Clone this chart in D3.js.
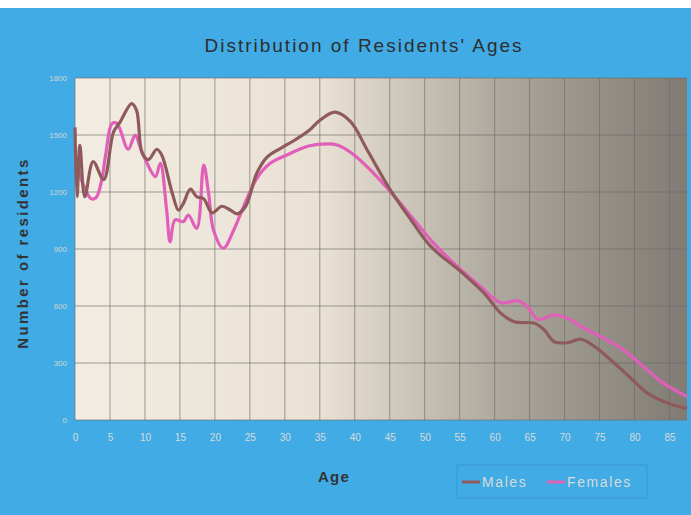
<!DOCTYPE html>
<html>
<head>
<meta charset="utf-8">
<script src="https://cdn.jsdelivr.net/npm/d3@7"></script>
<style>
  body { margin: 0; background: #ffffff; }
  svg { display: block; font-family: Arial, "Liberation Sans", sans-serif; }
</style>
</head>
<body>
<div id="chart"></div>
<script>
// ages (years) and counts
const maleAges = [0, 0.3, 0.7, 1.4, 2.6, 4.1, 5.5, 6.4, 8.1, 8.8, 9.6, 10.5, 11.7, 12.4, 13.9, 14.8, 15.5, 16.5, 17.4, 18.4, 19.6, 21, 22.2, 23.2, 24.4, 26, 27.5, 29.4, 31.5, 33.5, 35.1, 37.2, 39.4, 41.8, 45.1, 48, 50.9, 55.2, 58.5, 60.9, 62.8, 65.7, 67.1, 68.5, 70.4, 72.3, 74.3, 76.6, 79, 81.9, 84.8, 87.5];
const maleCounts = [1540, 1175, 1445, 1175, 1360, 1265, 1515, 1565, 1665, 1630, 1405, 1370, 1425, 1395, 1195, 1105, 1140, 1215, 1175, 1165, 1090, 1125, 1105, 1085, 1125, 1300, 1385, 1430, 1475, 1525, 1580, 1620, 1570, 1420, 1210, 1055, 912, 780, 667, 561, 517, 509, 474, 412, 407, 425, 386, 316, 237, 140, 88, 60];

const femaleAges = [0, 0.6, 1.4, 2.3, 3.0, 3.8, 4.4, 5.3, 6, 7.6, 8.6, 9.3, 10.3, 11.5, 12.2, 13.1, 13.6, 14.3, 15.5, 16.2, 17.4, 18.4, 19.1, 19.8, 21.2, 22.7, 24.1, 26, 27.9, 30.3, 33.4, 36.1, 37.5, 39.9, 42.7, 45.1, 48.5, 51.3, 54.7, 58, 60.9, 63.3, 64.7, 66.2, 68.5, 70.4, 72.8, 75.2, 78.1, 81, 83.8, 87.5];
const femaleCounts = [1400, 1300, 1220, 1165, 1170, 1260, 1400, 1561, 1561, 1425, 1500, 1438, 1351, 1281, 1351, 1105, 938, 1053, 1044, 1079, 1009, 1342, 1193, 1000, 904, 1000, 1123, 1272, 1351, 1395, 1442, 1453, 1447, 1395, 1298, 1202, 1053, 930, 807, 702, 617, 628, 596, 530, 553, 535, 483, 438, 377, 290, 202, 123];

const xTicks = [0, 5, 10, 15, 20, 25, 30, 35, 40, 45, 50, 55, 60, 65, 70, 75, 80, 85];
const yTicks = [0, 300, 600, 900, 1200, 1500, 1800];

const W = 691, H = 515;
const margin = { top: 78, right: 4, bottom: 95, left: 75 };
const width = W - margin.left - margin.right;
const height = H - margin.top - margin.bottom;

const svg = d3.select('#chart').append('svg')
  .attr('width', W)
  .attr('height', H);

// blue frame
svg.append('rect').attr('x', 0).attr('y', 8).attr('width', W).attr('height', H - 8).attr('fill', '#41abe6');

// plot background gradient
const defs = svg.append('defs');
const grad = defs.append('linearGradient').attr('id', 'bg').attr('x1', '0%').attr('x2', '100%').attr('y1', '0%').attr('y2', '0%');
grad.append('stop').attr('offset', '0%').attr('stop-color', '#f3ece2');
grad.append('stop').attr('offset', '40%').attr('stop-color', '#e9e1d4');
grad.append('stop').attr('offset', '70%').attr('stop-color', '#aca79c');
grad.append('stop').attr('offset', '100%').attr('stop-color', '#807c75');

const xScale = d3.scaleLinear().domain([0, 87.5]).range([0, width]);
const yScale = d3.scaleLinear().domain([0, 1800]).range([height, 0]);

const chart = svg.append('g')
  .attr('transform', `translate(${margin.left}, ${margin.top})`);

chart.append('rect')
  .attr('width', width).attr('height', height)
  .attr('fill', 'url(#bg)');

// grid
chart.append('g').selectAll('line')
  .data(yTicks)
  .enter().append('line')
  .attr('x1', 0).attr('x2', width)
  .attr('y1', d => yScale(d)).attr('y2', d => yScale(d))
  .attr('stroke', '#6f6a64').attr('stroke-width', 0.8).attr('opacity', 0.8);
chart.append('g').selectAll('line')
  .data(xTicks)
  .enter().append('line')
  .attr('x1', d => xScale(d)).attr('x2', d => xScale(d))
  .attr('y1', 0).attr('y2', height)
  .attr('stroke', '#6f6a64').attr('stroke-width', 0.8).attr('opacity', 0.8);

// axes (labels only)
const yAxis = chart.append('g')
  .call(d3.axisLeft(yScale).tickValues(yTicks).tickFormat(d3.format('d')).tickSize(0).tickPadding(8));
yAxis.select('.domain').remove();
yAxis.selectAll('text').attr('fill', '#cfd6d0').attr('font-size', 8);

const xAxis = chart.append('g')
  .attr('transform', `translate(0, ${height})`)
  .call(d3.axisBottom(xScale).tickValues(xTicks).tickSize(0).tickPadding(14));
xAxis.select('.domain').remove();
xAxis.selectAll('text').attr('fill', '#d8dcd8').attr('font-size', 10);

// lines
const line = d3.line()
  .x(d => xScale(d[0]))
  .y(d => yScale(d[1]))
  .curve(d3.curveCatmullRom.alpha(0.5));

const males = maleAges.map((a, i) => [a, maleCounts[i]]);
const females = femaleAges.map((a, i) => [a, femaleCounts[i]]);

chart.append('path').datum(females)
  .attr('d', line).attr('fill', 'none')
  .attr('stroke', '#e15fb9').attr('stroke-width', 3.2).attr('stroke-linejoin', 'round');
chart.append('path').datum(males)
  .attr('d', line).attr('fill', 'none')
  .attr('stroke', '#8e5a5c').attr('stroke-width', 3.2).attr('stroke-linejoin', 'round');

// titles
svg.append('text')
  .attr('x', 364).attr('y', 52)
  .attr('text-anchor', 'middle')
  .attr('font-size', 19).attr('letter-spacing', 2)
  .attr('fill', '#2e2e2e')
  .text("Distribution of Residents' Ages");

svg.append('text')
  .attr('transform', 'translate(28, 253) rotate(-90)')
  .attr('text-anchor', 'middle')
  .attr('font-size', 15).attr('font-weight', 'bold').attr('letter-spacing', 2.4)
  .attr('fill', '#333')
  .text('Number of residents');

svg.append('text')
  .attr('x', 334).attr('y', 482)
  .attr('text-anchor', 'middle')
  .attr('font-size', 15).attr('font-weight', 'bold').attr('letter-spacing', 1.2)
  .attr('fill', '#333')
  .text('Age');

// legend
const legend = svg.append('g').attr('transform', 'translate(457, 465)');
legend.append('rect')
  .attr('width', 190).attr('height', 33)
  .attr('fill', 'none').attr('stroke', '#3a93c6').attr('stroke-width', 0.8);
const items = [
  { name: 'Males', color: '#8e5a5c', x: 5 },
  { name: 'Females', color: '#e15fb9', x: 90 }
];
const li = legend.selectAll('g.item').data(items).enter().append('g')
  .attr('transform', d => `translate(${d.x}, 17)`);
li.append('line').attr('x1', 0).attr('x2', 18).attr('y1', 0).attr('y2', 0)
  .attr('stroke', d => d.color).attr('stroke-width', 3);
li.append('text').attr('x', 20).attr('y', 5)
  .attr('font-size', 14).attr('letter-spacing', 1.6).attr('fill', '#d6dcd9')
  .text(d => d.name);
</script>
</body>
</html>
